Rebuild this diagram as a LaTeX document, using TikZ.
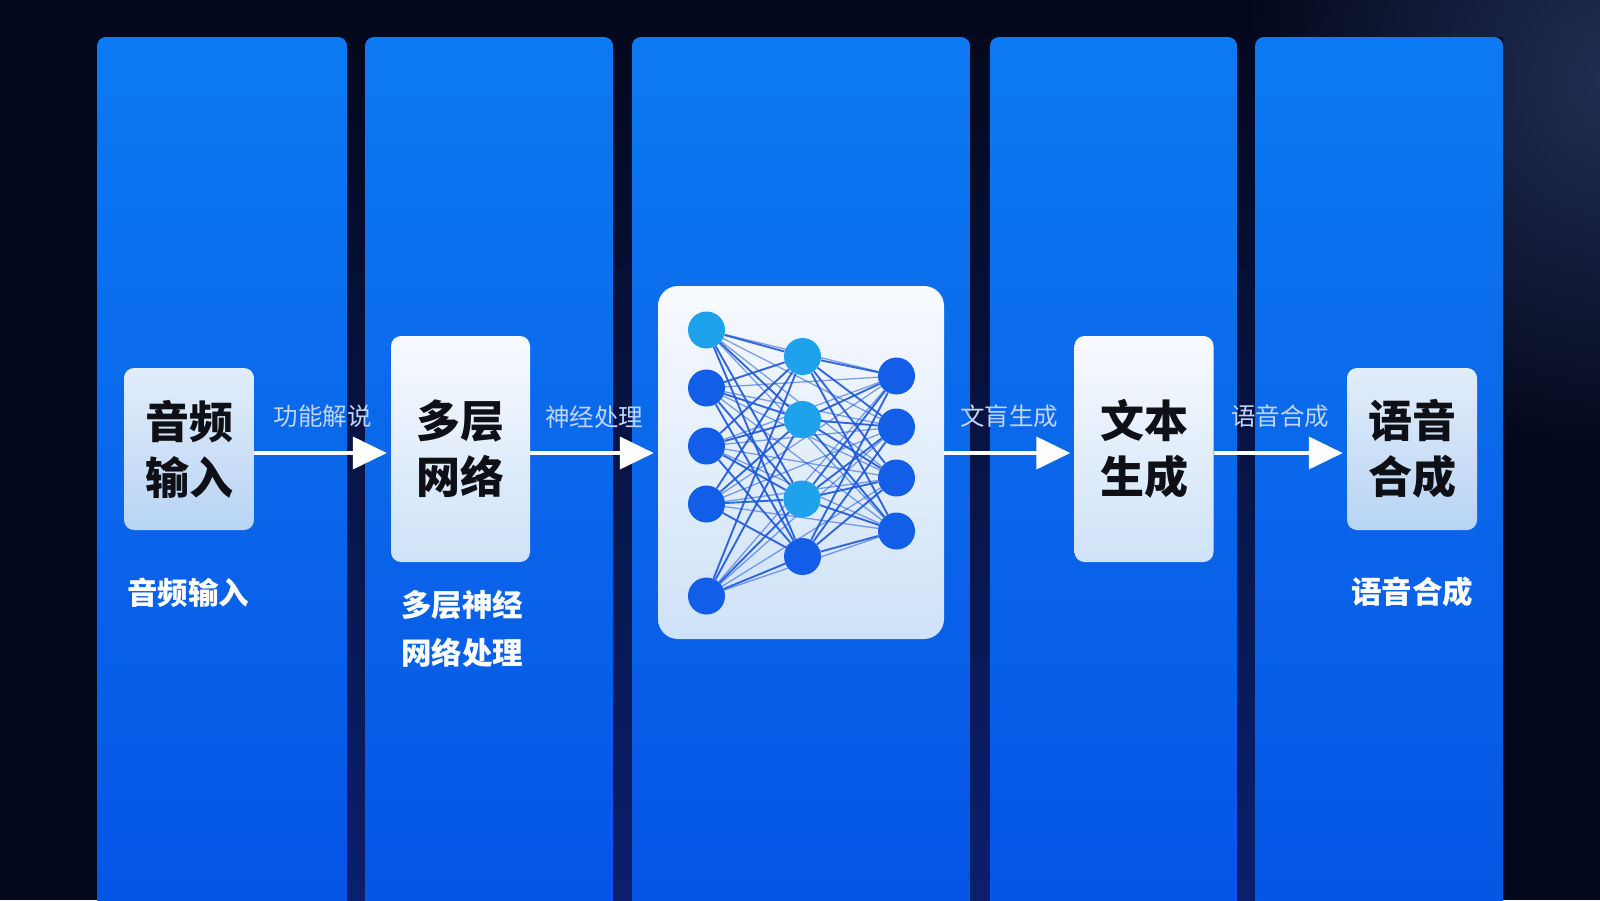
\documentclass[tikz,border=0pt]{standalone}
\usepackage{fontspec}
\setmainfont{Noto Sans CJK SC}
\usetikzlibrary{arrows.meta}
\pgfdeclarelayer{front}
\pgfsetlayers{main,front}
\definecolor{bgdark}{RGB}{3,8,28}
\definecolor{bghaze}{RGB}{34,46,84}
\definecolor{gaptop}{RGB}{4,9,30}
\definecolor{gapmid}{RGB}{8,18,60}
\definecolor{gapbot}{RGB}{10,32,110}
\definecolor{colTop}{RGB}{12,122,242}
\definecolor{colMid}{RGB}{10,102,234}
\definecolor{colBot}{RGB}{5,84,230}
\definecolor{cardTop}{RGB}{248,250,254}
\definecolor{cardBot}{RGB}{206,226,248}
\definecolor{softTop}{RGB}{226,237,250}
\definecolor{softBot}{RGB}{184,212,244}
\definecolor{ink}{RGB}{14,16,22}
\definecolor{labcol}{RGB}{192,212,250}
\definecolor{cyanN}{RGB}{30,162,236}
\definecolor{blueN}{RGB}{18,94,232}
\definecolor{edgeC}{RGB}{30,88,220}
\tikzset{
  colbox/.style={top color=colTop, bottom color=colBot, middle color=colMid, rounded corners=9pt},
  card/.style={rectangle, rounded corners=10pt, top color=cardTop, bottom color=cardBot,
    align=center, font=\bfseries\fontsize{44}{56}\selectfont, text=ink, inner sep=0pt},
  cardsoft/.style={card, top color=softTop, bottom color=softBot},
  flow/.style={draw=white, line width=4pt, shorten >=4pt, -{Triangle[length=34pt,width=32pt]}},
  flowlab/.style={font=\fontsize{24.5}{28}\selectfont, text=labcol, inner sep=0pt},
  caption/.style={font=\bfseries\fontsize{30.5}{48}\selectfont, text=white, align=center, inner sep=0pt},
  neuron/.style={circle, inner sep=0pt, minimum size=37pt},
  nc/.style={neuron, fill=cyanN},
  nb/.style={neuron, fill=blueN},
  syn/.style={draw=edgeC, line width=1.9pt, opacity=0.9},
  synfaint/.style={draw=edgeC, line width=1.3pt, opacity=0.55},
}
\begin{document}
\begin{tikzpicture}[x=1pt,y=-1pt]
\useasboundingbox (0,0) rectangle (1600,900);
\clip (0,0) rectangle (1600,900);
% background
\fill[bgdark] (0,0) rectangle (1600,900);
\shade[inner color=bghaze, outer color=bgdark] (1620,80) circle (380);
\shade[top color=gaptop, middle color=gapmid, bottom color=gapbot] (97,37) rectangle (1503,900);
% columns
\shade[colbox] (97,37) rectangle (347,930);
\shade[colbox] (365,37) rectangle (613,930);
\shade[colbox] (632,37) rectangle (970,930);
\shade[colbox] (990,37) rectangle (1237,930);
\shade[colbox] (1255,37) rectangle (1503,930);
% cards
\node[cardsoft, minimum width=130pt, minimum height=162pt] (b1) at (189,449) {音频\\输入};
\node[card, minimum width=139pt, minimum height=226pt] (b2) at (460.5,449) {多层\\网络};
\node[card, rounded corners=20pt, minimum width=286pt, minimum height=353pt] (b3) at (801,462.5) {};
\node[card, minimum width=139pt, minimum height=226pt] (b4) at (1144,449) {文本\\生成};
\node[cardsoft, minimum width=130pt, minimum height=162pt] (b5) at (1412,449) {语音\\合成};
% arrows
\coordinate (ay) at (0,453);
\draw[flow] (b1.east |- ay) -- node[flowlab, midway, above=23pt] {功能解说} (b2.west |- ay);
\draw[flow] (b2.east |- ay) -- node[flowlab, midway, above=23pt] {神经处理} (b3.west |- ay);
\draw[flow] (b3.east |- ay) -- node[flowlab, midway, above=23pt] {文肓生成} (b4.west |- ay);
\draw[flow] (b4.east |- ay) -- node[flowlab, midway, above=23pt] {语音合成} (b5.west |- ay);
% captions
\node[caption] (c1) at (188,593) {音频输入};
\node[caption] (c2) at (462,629) {多层神经\\网络处理};
\node[caption] (c5) at (1412,592) {语音合成};
% neural network
\begin{pgfonlayer}{front}
\node[nc] (a1) at (706.5,330) {};
\node[nb] (a2) at (706.5,388) {};
\node[nb] (a3) at (706.5,446) {};
\node[nb] (a4) at (706.5,504) {};
\node[nb] (a5) at (706.5,596) {};
\node[nc] (h1) at (802.5,356.5) {};
\node[nc] (h2) at (802.5,419.5) {};
\node[nc] (h3) at (802,499) {};
\node[nb] (h4) at (802.5,556.5) {};
\node[nb] (o1) at (896.5,376) {};
\node[nb] (o2) at (896.5,427) {};
\node[nb] (o3) at (896.5,478) {};
\node[nb] (o4) at (896.5,531) {};
\end{pgfonlayer}
\foreach \i in {1,...,5}{
  \foreach \o in {1,...,4}{
    \draw[synfaint] (a\i) -- (o\o);
  }
}
\foreach \i in {1,...,5}{
  \foreach \h in {1,...,4}{
    \draw[syn] (a\i) -- (h\h);
  }
}
\foreach \h in {1,...,4}{
  \foreach \o in {1,...,4}{
    \draw[syn] (h\h) -- (o\o);
  }
}
\end{tikzpicture}
\end{document}
